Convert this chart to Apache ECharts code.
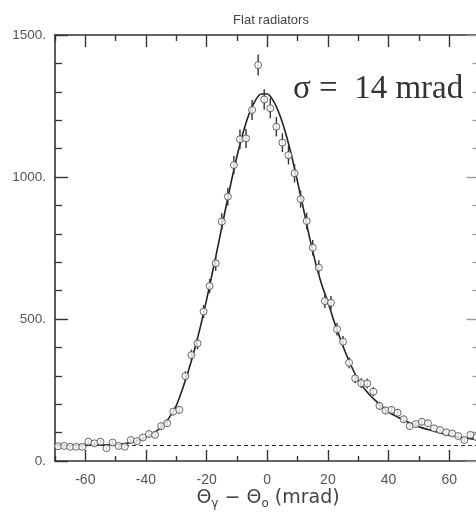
<!DOCTYPE html>
<html>
<head>
<meta charset="utf-8">
<script src="https://cdn.jsdelivr.net/npm/echarts@6/dist/echarts.min.js"></script>
<style>
  html, body { margin: 0; padding: 0; background: #fff; overflow: hidden; }
  #chart { width: 480px; height: 514px; }
</style>
</head>
<body>
<div id="chart"></div>
<script>
// Measured photon angle distribution (counts per 2 mrad bin)
const binAngle = [
  -69, -67, -65, -63, -61, -59, -57, -55, -53, -51,
  -49, -47, -45, -43, -41, -39, -37, -35, -33, -31,
  -29, -27, -25, -23, -21, -19, -17, -15, -13, -11,
  -9, -7, -5, -3, -1, 1, 3, 5, 7, 9,
  11, 13, 15, 17, 19, 21, 23, 25, 27, 29,
  31, 33, 35, 37, 39, 41, 43, 45, 47, 49,
  51, 53, 55, 57, 59, 61, 63, 65, 67, 69
];
const binCounts = [
  52, 53, 50, 50, 50, 68, 62, 68, 45, 65,
  53, 50, 74, 70, 83, 95, 92, 123, 133, 174,
  180, 299, 373, 414, 526, 616, 696, 843, 931, 1042,
  1133, 1136, 1236, 1394, 1273, 1242, 1177, 1121, 1077, 1013,
  922, 845, 751, 681, 563, 557, 464, 420, 346, 291,
  274, 273, 244, 194, 178, 180, 170, 147, 123, 130,
  138, 133, 115, 109, 101, 97, 88, 74, 92, 84
];
const binErrors = [
  7, 7, 7, 7, 7, 8, 8, 8, 7, 8,
  7, 7, 9, 8, 9, 10, 10, 11, 12, 13,
  13, 17, 19, 20, 23, 25, 26, 29, 31, 32,
  34, 34, 35, 37, 36, 35, 34, 33, 33, 32,
  30, 29, 27, 26, 24, 24, 22, 20, 19, 17,
  17, 17, 16, 14, 13, 13, 13, 12, 11, 11,
  12, 12, 11, 10, 10, 10, 9, 9, 10, 9
];

// Fitted curve, sampled every 2 mrad
const fitAngle = [
  -70, -68, -66, -64, -62, -60, -58, -56, -54, -52,
  -50, -48, -46, -44, -42, -40, -38, -36, -34, -32,
  -30, -28, -26, -24, -22, -20, -18, -16, -14, -12,
  -10, -8, -6, -4, -2, 0, 2, 4, 6, 8,
  10, 12, 14, 16, 18, 20, 22, 24, 26, 28,
  30, 32, 34, 36, 38, 40, 42, 44, 46, 48,
  50, 52, 54, 56, 58, 60, 62, 64, 66, 68, 70
];
const fitValue = [
  55, 55, 55, 55, 55, 55, 55.5, 56, 56, 57,
  58, 60, 63, 68, 75, 84, 95, 110, 130, 158,
  195, 252, 318, 392, 475, 568, 668, 770, 875, 977,
  1072, 1155, 1222, 1268, 1292, 1292, 1268, 1222, 1157, 1076,
  983, 885, 785, 695, 620, 560, 493, 433, 377, 328,
  285, 255, 230, 210, 190, 172, 160, 149, 139, 130,
  121, 114, 108, 102, 96, 91, 87, 83, 80, 77, 74
];
const backgroundLevel = 54;

const xMajorTicks = [-60, -40, -20, 0, 20, 40, 60];
const xMinorTicks = [-70, -50, -30, -10, 10, 30, 50, 70];

const axisColor = '#333';
const labelColor = '#555';
const sansFont = '"Liberation Sans", Arial, sans-serif';
const nameFont = '"DejaVu Sans", sans-serif';

const chart = echarts.init(document.getElementById('chart'));

function xAxisDef(position, ticks, len, showLabel, showLine) {
  return {
    type: 'value', position: position, min: -70, max: 70,
    axisLine: { show: showLine, onZero: false, lineStyle: { color: axisColor, width: 1.6 } },
    axisTick: { show: true, inside: true, length: len, customValues: ticks,
      lineStyle: { color: axisColor, width: 1.4 } },
    axisLabel: { show: showLabel, customValues: ticks, margin: 12,
      color: labelColor, fontSize: 14, fontFamily: sansFont },
    splitLine: { show: false }
  };
}

function yAxisDef(position, showLabel, showLine, tickColor) {
  return {
    type: 'value', position: position, min: 0, max: 1500, interval: 500,
    axisLine: { show: showLine, onZero: false, lineStyle: { color: axisColor, width: 1.6 } },
    axisTick: { show: true, inside: true, length: 13, lineStyle: { color: tickColor, width: 1.4 } },
    minorTick: { show: true, splitNumber: 5, length: 7, lineStyle: { color: tickColor, width: 1.3 } },
    axisLabel: { show: showLabel, margin: 9, color: labelColor, fontSize: 13.5,
      fontFamily: sansFont, formatter: v => v + '.' },
    splitLine: { show: false }
  };
}

chart.setOption({
  animation: false,
  backgroundColor: '#fff',
  title: {
    text: 'Flat radiators', left: 266, top: 9, textAlign: 'center',
    textStyle: { fontSize: 13, fontWeight: 'normal', color: '#444', fontFamily: sansFont }
  },
  grid: { left: 55, right: 0.5, top: 35, bottom: 53 },
  xAxis: [
    xAxisDef('bottom', xMajorTicks, 11, true, true),
    xAxisDef('bottom', xMinorTicks, 5, false, false),
    xAxisDef('top', xMajorTicks, 12, false, true),
    xAxisDef('top', xMinorTicks, 6, false, false)
  ],
  yAxis: [
    yAxisDef('left', true, true, axisColor),
    yAxisDef('right', false, false, '#999')
  ],
  graphic: [
    {
      type: 'text', x: 293, y: 89,
      style: {
        text: 'σ =  14 mrad', fill: '#333',
        font: '33px "Liberation Serif", "Times New Roman", serif',
        verticalAlign: 'middle', align: 'left'
      }
    },
    {
      type: 'text', x: 268, y: 498,
      style: {
        text: '{a|Θ}{s|γ}{a| − Θ}{s|o}{a| (mrad)}',
        align: 'center', verticalAlign: 'middle',
        rich: {
          a: { fontSize: 19, fontFamily: nameFont, fill: '#444', lineHeight: 24, verticalAlign: 'middle' },
          s: { fontSize: 12, fontFamily: nameFont, fill: '#444', lineHeight: 24, verticalAlign: 'bottom' }
        }
      }
    }
  ],
  series: [
    {
      name: 'fit', type: 'line', xAxisIndex: 0, yAxisIndex: 0,
      data: fitAngle.map((a, i) => [a, fitValue[i]]),
      smooth: 0.3, showSymbol: false,
      lineStyle: { color: '#222', width: 1.6 },
      z: 3,
      markLine: {
        silent: true, symbol: 'none', label: { show: false },
        lineStyle: { color: '#333', type: [4, 3], width: 1.2 },
        data: [{ yAxis: backgroundLevel }]
      }
    },
    {
      name: 'errors', type: 'custom', xAxisIndex: 0, yAxisIndex: 0,
      data: binAngle.map((a, i) => [a, binCounts[i] - binErrors[i], binCounts[i] + binErrors[i]]),
      renderItem: function (params, api) {
        const lo = api.coord([api.value(0), api.value(1)]);
        const hi = api.coord([api.value(0), api.value(2)]);
        return {
          type: 'line',
          shape: { x1: lo[0], y1: lo[1], x2: hi[0], y2: hi[1] },
          style: { stroke: '#333', lineWidth: 1.4 }
        };
      },
      z: 4
    },
    {
      name: 'data', type: 'scatter', xAxisIndex: 0, yAxisIndex: 0,
      data: binAngle.map((a, i) => [a, binCounts[i]]),
      symbol: 'circle', symbolSize: 7,
      itemStyle: { color: '#fff', borderColor: '#444', borderWidth: 1 },
      z: 5
    }
  ]
});
</script>
</body>
</html>
